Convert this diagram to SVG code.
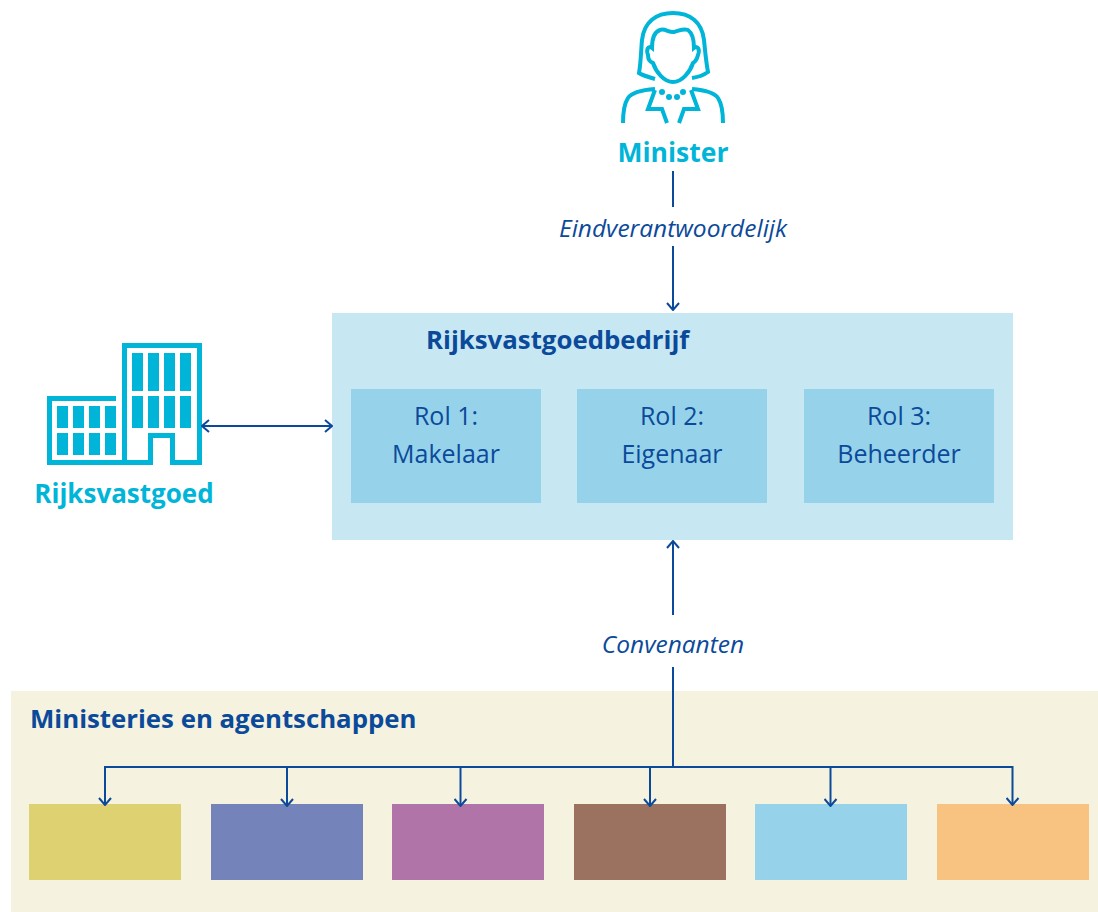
<svg xmlns="http://www.w3.org/2000/svg" width="1098" height="912" viewBox="0 0 1098 912">
<style>
text{font-family:"Open Sans","Noto Sans",sans-serif}
.h{font-weight:700;fill:#0b4a9a;font-size:25.8px}
.c{font-weight:700;fill:#00b5d8;text-anchor:middle}
.r{fill:#0b4a9a;font-size:25px;text-anchor:middle}
.i{fill:#0b4a9a;font-size:24.5px;font-style:italic;text-anchor:middle}
.ln{fill:none;stroke:#0b4a9a;stroke-width:2}
.ic{fill:none;stroke:#00b5d8;stroke-width:4}
.bd{fill:none;stroke:#00b5d8;stroke-width:5}
.fl{fill:#00b5d8}
</style>
<defs><marker id="a" viewBox="0 0 14 14" refX="13" refY="7" markerWidth="14" markerHeight="14" markerUnits="userSpaceOnUse" orient="auto-start-reverse"><path d="M6 1L13 7L6 13" fill="none" stroke="#0b4a9a" stroke-width="2"/></marker></defs>
<rect width="1098" height="912" fill="#fff"/>
<g id="ministeries"><rect x="11" y="691" width="1087" height="221" fill="#f5f2df"/><text class="h" x="30" y="728">Ministeries en agentschappen</text></g>
<g id="m1"><rect x="29" y="804" width="152" height="76" fill="#ddd172"/></g>
<g id="m2"><rect x="211" y="804" width="152" height="76" fill="#7583bb"/></g>
<g id="m3"><rect x="392" y="804" width="152" height="76" fill="#b074a8"/></g>
<g id="m4"><rect x="574" y="804" width="152" height="76" fill="#9b7260"/></g>
<g id="m5"><rect x="755" y="804" width="152" height="76" fill="#96d3ea"/></g>
<g id="m6"><rect x="937" y="804" width="152" height="76" fill="#f8c280"/></g>
<g id="rijksvastgoedbedrijf"><rect x="332" y="313" width="681" height="227" fill="#c7e7f3"/><text class="h" x="426" y="349">Rijksvastgoedbedrijf</text></g>
<g id="rol1"><rect x="351" y="389" width="190" height="114" fill="#96d3ea"/><text class="r" x="446" y="425">Rol 1:</text><text class="r" x="446" y="463">Makelaar</text></g>
<g id="rol2"><rect x="577" y="389" width="190" height="114" fill="#96d3ea"/><text class="r" x="672" y="425">Rol 2:</text><text class="r" x="672" y="463">Eigenaar</text></g>
<g id="rol3"><rect x="804" y="389" width="190" height="114" fill="#96d3ea"/><text class="r" x="899" y="425">Rol 3:</text><text class="r" x="899" y="463">Beheerder</text></g>
<g id="minister">
<path class="ic" d="M655 79C648 77 642 75 639 73C641 62 641 50 642 40C644 22 656 13 673 13C690 13 702 22 704 40C705 50 706 62 708 72C704 75 698 77 692 78"/>
<path class="ic" d="M652 48C652 38 654 32 660 30C665 28 669 33 674 32C679 31 683 28 688 30C692 33 694 38 694 48C698 45 700 50 698 55C697 59 695 62 693 63C690 72 682 82 673 82C664 82 656 72 653 63C650 62 648 59 648 55C646 50 648 45 652 48Z"/>
<path class="ic" d="M655 89C642 90 632 92 628 98C624 104 623 114 623 123M692 89C704 90 714 92 718 98C722 104 723 114 723 123M655 90L648 109H662L667 123M691 90L698 109H684L679 123"/>
<circle class="fl" cx="662" cy="92" r="3"/><circle class="fl" cx="669" cy="97" r="3"/><circle class="fl" cx="677" cy="97" r="3"/><circle class="fl" cx="683" cy="92" r="3"/>
<text class="c" x="673" y="162" font-size="26.5">Minister</text></g>
<g id="rijksvastgoed">
<path class="bd" d="M116 398.5H49.5V462.5H150.5V435.5H172.5V462.5H199.5V345.5H124.5V462.5"/>
<path class="fl" d="M132 353h11v38h-11zM148 353h11v38h-11zM164 353h11v38h-11zM180 353h11v38h-11zM132 396h11v32h-11zM148 396h11v32h-11zM164 396h11v32h-11zM180 396h11v32h-11zM57 406h11v22h-11zM73 406h11v22h-11zM89 406h11v22h-11zM105 406h11v22h-11zM57 433h11v22h-11zM73 433h11v22h-11zM89 433h11v22h-11zM105 433h11v22h-11z"/>
<text class="c" x="124" y="503" font-size="26">Rijksvastgoed</text></g>
<g id="connectors">
<path class="ln" d="M673 171V207"/><path class="ln" d="M673 246V310" marker-end="url(#a)"/>
<path class="ln" d="M202 426H332" marker-start="url(#a)" marker-end="url(#a)"/>
<path class="ln" d="M673 615V541" marker-end="url(#a)"/>
<path class="ln" d="M673 667V767"/>
<path class="ln" d="M105 805V767H1012.500V805" marker-end="url(#a)" marker-start="url(#a)"/>
<path class="ln" d="M287 767V806" marker-end="url(#a)"/><path class="ln" d="M460.500 767V806" marker-end="url(#a)"/><path class="ln" d="M650 767V806" marker-end="url(#a)"/><path class="ln" d="M830.500 767V806" marker-end="url(#a)"/>
<text class="i" x="673" y="237">Eindverantwoordelijk</text><text class="i" x="673" y="653">Convenanten</text></g>
</svg>
